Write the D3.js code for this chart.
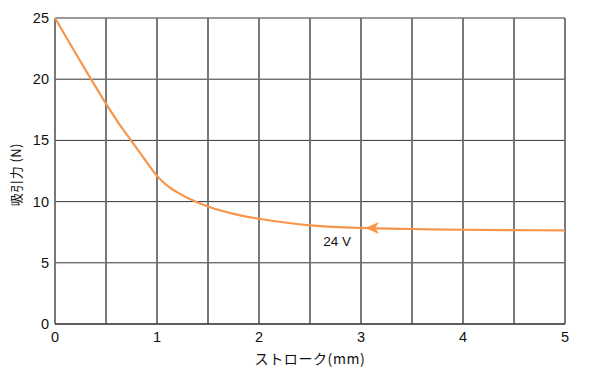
<!DOCTYPE html>
<html>
<head>
<meta charset="utf-8">
<script src="https://cdn.jsdelivr.net/npm/d3@7/dist/d3.min.js"></script>
<style>
  body { margin: 0; background: #fff; }
  svg text { font-family: "Liberation Sans", Arial, sans-serif; fill: #111; }
  .jp { font-family: "Noto Sans CJK JP", sans-serif; }
</style>
</head>
<body>
<svg id="chart" width="596" height="384"></svg>
<script>
// stroke (mm) and attraction force (N)
var stroke = [0, 0.25, 0.5, 0.625, 0.75, 0.875, 1, 1.1, 1.2, 1.3, 1.5, 1.75, 2, 2.5, 3, 3.5, 4, 4.5, 5];
var force  = [25, 21.45, 18.0, 16.4, 14.95, 13.5, 12.1, 11.3, 10.75, 10.3, 9.6, 9.0, 8.6, 8.05, 7.85, 7.76, 7.7, 7.67, 7.65];
var xTicks = [0, 1, 2, 3, 4, 5];
var yTicks = [0, 5, 10, 15, 20, 25];
var xGrid = [0, 0.5, 1, 1.5, 2, 2.5, 3, 3.5, 4, 4.5, 5];
var seriesLabel = "24 V";
var arrowAt = 3.04;

var svg = d3.select("#chart"),
    margin = {top: 18, right: 31, bottom: 60, left: 55},
    width = +svg.attr("width") - margin.left - margin.right,
    height = +svg.attr("height") - margin.top - margin.bottom;

var x = d3.scaleLinear().domain([0, 5]).range([0, width]);
var y = d3.scaleLinear().domain([0, 25]).range([height, 0]);

var g = svg.append("g")
    .attr("transform", "translate(" + margin.left + "," + margin.top + ")");

// horizontal grid
g.selectAll(".hgrid")
    .data(yTicks)
  .enter().append("line")
    .attr("x1", 0).attr("x2", width)
    .attr("y1", d => y(d)).attr("y2", d => y(d))
    .attr("stroke", "#333")
    .attr("stroke-width", 1);

// vertical grid
g.selectAll(".vgrid")
    .data(xGrid)
  .enter().append("line")
    .attr("x1", d => x(d)).attr("x2", d => x(d))
    .attr("y1", 0).attr("y2", height)
    .attr("stroke", "#6a6a6a")
    .attr("stroke-width", 1.8);

// bottom axis line
g.append("line")
    .attr("x1", 0).attr("x2", width)
    .attr("y1", height).attr("y2", height)
    .attr("stroke", "#222");

// tick labels
g.selectAll(".xlab")
    .data(xTicks)
  .enter().append("text")
    .attr("x", d => x(d))
    .attr("y", height + 18)
    .attr("text-anchor", "middle")
    .attr("font-size", 14.5)
    .text(d => d);

g.selectAll(".ylab")
    .data(yTicks)
  .enter().append("text")
    .attr("x", -6)
    .attr("y", d => y(d) + 5)
    .attr("text-anchor", "end")
    .attr("font-size", 14.5)
    .text(d => d);

// axis titles
g.append("text")
    .attr("class", "jp")
    .attr("x", x(2.5))
    .attr("y", height + 40)
    .attr("text-anchor", "middle")
    .attr("font-size", 14)
    .attr("letter-spacing", 0.6)
    .text("ストローク(mm)");

g.append("text")
    .attr("class", "jp")
    .attr("transform", "translate(" + (-34) + "," + y(12.2) + ") rotate(-90)")
    .attr("text-anchor", "middle")
    .attr("font-size", 13)
    .attr("letter-spacing", 0.4)
    .text("吸引力 (N)");

// curve
var data = stroke.map((s, i) => ({s: s, f: force[i]}));
var line = d3.line()
    .x(d => x(d.s))
    .y(d => y(d.f))
    .curve(d3.curveCatmullRom.alpha(0.5));

g.append("path")
    .datum(data)
    .attr("fill", "none")
    .attr("stroke", "#f7964a")
    .attr("stroke-width", 2.2)
    .attr("stroke-linejoin", "round")
    .attr("d", line);

// arrow head pointing left
var interp = d3.scaleLinear().domain(stroke).range(force);
var ax = x(arrowAt), ay = y(interp(arrowAt));
g.append("path")
    .attr("d", "M" + ax + "," + ay + "L" + (ax + 14) + "," + (ay - 6) +
               "L" + (ax + 10) + "," + ay + "L" + (ax + 14) + "," + (ay + 6) + "Z")
    .attr("fill", "#f7964a");

g.append("text")
    .attr("x", x(2.63))
    .attr("y", y(interp(2.63)) + 20)
    .attr("font-size", 13.5)
    .text(seriesLabel);
</script>
</body>
</html>
